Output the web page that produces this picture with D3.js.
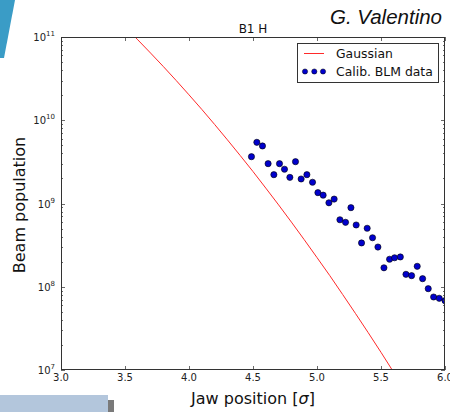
<!DOCTYPE html>
<html>
<head>
<meta charset="utf-8">
<script src="https://cdn.jsdelivr.net/npm/d3@7"></script>
<style>
  html, body { margin: 0; padding: 0; background: #fff; }
  svg { display: block; font-family: "DejaVu Sans", sans-serif; }
</style>
</head>
<body>
<svg id="chart" width="450" height="412"></svg>
<script>
// Calibrated BLM measurements: jaw position (sigma) and beam population
const blmJaw = [4.488, 4.530, 4.574, 4.618, 4.663, 4.707, 4.746, 4.788, 4.832, 4.876,
                4.921, 4.965, 5.007, 5.048, 5.093, 5.134, 5.179, 5.223, 5.265, 5.306,
                5.348, 5.392, 5.434, 5.476, 5.523, 5.567, 5.606, 5.651, 5.695, 5.739,
                5.783, 5.825, 5.869, 5.911, 5.955, 6.000];
const blmPop = [3.65e9, 5.43e9, 4.91e9, 3.01e9, 2.22e9, 3.01e9, 2.58e9, 2.06e9, 3.18e9, 1.97e9,
                2.22e9, 1.80e9, 1.35e9, 1.26e9, 1.02e9, 1.13e9, 6.38e8, 5.94e8, 8.91e8, 5.52e8,
                3.36e8, 5.04e8, 3.88e8, 3.00e8, 1.69e8, 2.14e8, 2.23e8, 2.28e8, 1.41e8, 1.36e8,
                1.76e8, 1.25e8, 9.48e7, 7.53e7, 7.27e7, 6.80e7];

// Gaussian tail reference curve
const gaussJaw = [3.5, 3.6, 3.7, 3.8, 3.9, 4.0, 4.1, 4.2, 4.3, 4.4, 4.5, 4.6,
                  4.7, 4.8, 4.9, 5.0, 5.1, 5.2, 5.3, 5.4, 5.5, 5.6, 5.7];
const gaussPop = [1.32e11, 9.25e10, 6.41e10, 4.41e10, 3.00e10, 2.02e10, 1.35e10, 8.91e9,
                  5.82e9, 3.77e9, 2.42e9, 1.53e9, 9.62e8, 5.98e8, 3.68e8, 2.24e8, 1.36e8,
                  8.09e7, 4.79e7, 2.81e7, 1.63e7, 9.33e6, 5.31e6];

const xTicks = [3.0, 3.5, 4.0, 4.5, 5.0, 5.5, 6.0];
const yDecades = [7, 8, 9, 10, 11];

const svg = d3.select("#chart");
const M = { left: 61, right: 445, top: 37, bottom: 370 };

const x = d3.scaleLinear().domain([3, 6]).range([M.left, M.right]);
const y = d3.scaleLog().domain([1e7, 1e11]).range([M.bottom, M.top]);

// Decorative slide elements
svg.append("polygon")
  .attr("points", "0,0 15,0 4,58 0,58")
  .attr("fill", "#3a9cc6");
svg.append("rect").attr("x", 0).attr("y", 395).attr("width", 108).attr("height", 17)
  .attr("fill", "#b3c6dc");
svg.append("rect").attr("x", 108).attr("y", 400).attr("width", 6).attr("height", 12)
  .attr("fill", "#7a7a7a");

// Author
svg.append("text")
  .attr("x", 442).attr("y", 24)
  .attr("text-anchor", "end")
  .attr("font-family", "'Liberation Sans', Arial, sans-serif")
  .attr("font-style", "italic")
  .attr("font-size", 20.5)
  .attr("fill", "#111")
  .text("G. Valentino");

// Title
svg.append("text")
  .attr("x", (M.left + M.right) / 2).attr("y", 33)
  .attr("text-anchor", "middle")
  .attr("font-size", 12)
  .attr("fill", "#111")
  .text("B1 H");

// Clip region for plotted marks
svg.append("clipPath").attr("id", "plotClip")
  .append("rect")
  .attr("x", M.left).attr("y", M.top)
  .attr("width", M.right - M.left).attr("height", M.bottom - M.top);

const plot = svg.append("g").attr("clip-path", "url(#plotClip)");

// Gaussian curve
const gaussData = gaussJaw.map((j, i) => [j, gaussPop[i]]);
plot.append("path")
  .datum(gaussData)
  .attr("fill", "none")
  .attr("stroke", "#ff2a2a")
  .attr("stroke-width", 1)
  .attr("d", d3.line().x(d => x(d[0])).y(d => y(d[1])).curve(d3.curveMonotoneX));

// BLM data points
plot.selectAll("circle.blm")
  .data(blmJaw.map((j, i) => [j, blmPop[i]]))
  .join("circle")
  .attr("class", "blm")
  .attr("cx", d => x(d[0]))
  .attr("cy", d => y(d[1]))
  .attr("r", 3.1)
  .attr("fill", "#0000cc")
  .attr("stroke", "#000")
  .attr("stroke-width", 0.6);

// Ticks on all four sides, pointing inward
const tickColor = "#444";
const ticks = svg.append("g").attr("stroke", tickColor).attr("stroke-width", 0.8);
xTicks.forEach(t => {
  const px = Math.round(x(t)) + 0.5;
  ticks.append("line").attr("x1", px).attr("x2", px).attr("y1", M.bottom).attr("y2", M.bottom - 4);
  ticks.append("line").attr("x1", px).attr("x2", px).attr("y1", M.top).attr("y2", M.top + 4);
});
const yMinor = [];
for (let e = 7; e < 11; e++) for (let m = 2; m <= 9; m++) yMinor.push(m * Math.pow(10, e));
yDecades.forEach(e => {
  const py = Math.round(y(Math.pow(10, e))) + 0.5;
  ticks.append("line").attr("x1", M.left).attr("x2", M.left + 4).attr("y1", py).attr("y2", py);
  ticks.append("line").attr("x1", M.right).attr("x2", M.right - 4).attr("y1", py).attr("y2", py);
});
yMinor.forEach(v => {
  const py = Math.round(y(v)) + 0.5;
  ticks.append("line").attr("x1", M.left).attr("x2", M.left + 2).attr("y1", py).attr("y2", py);
  ticks.append("line").attr("x1", M.right).attr("x2", M.right - 2).attr("y1", py).attr("y2", py);
});

// Frame
svg.append("rect")
  .attr("x", M.left + 0.5).attr("y", M.top + 0.5)
  .attr("width", M.right - M.left - 1).attr("height", M.bottom - M.top - 1)
  .attr("fill", "none").attr("stroke", "#333").attr("stroke-width", 1);

// X tick labels
svg.append("g").selectAll("text")
  .data(xTicks)
  .join("text")
  .attr("x", d => x(d)).attr("y", 381)
  .attr("text-anchor", "middle")
  .attr("font-size", 10)
  .attr("fill", "#222")
  .text(d => d.toFixed(1));

// Y tick labels as powers of ten
const yl = svg.append("g").selectAll("text")
  .data(yDecades)
  .join("text")
  .attr("x", 55).attr("y", d => y(Math.pow(10, d)) + 4)
  .attr("text-anchor", "end")
  .attr("font-size", 10)
  .attr("fill", "#222");
yl.append("tspan").text("10");
yl.append("tspan").attr("dy", -5).attr("font-size", 7).text(d => d);

// Axis labels
svg.append("text")
  .attr("transform", "translate(25,205) rotate(-90)")
  .attr("text-anchor", "middle")
  .attr("font-size", 16)
  .attr("fill", "#111")
  .text("Beam population");

const xl = svg.append("text")
  .attr("x", (M.left + M.right) / 2).attr("y", 404)
  .attr("text-anchor", "middle")
  .attr("font-size", 16)
  .attr("fill", "#111");
xl.append("tspan").text("Jaw position [");
xl.append("tspan").attr("font-style", "italic").text("σ");
xl.append("tspan").text("]");

// Legend
const lg = svg.append("g");
lg.append("rect")
  .attr("x", 297.5).attr("y", 43.5).attr("width", 141).attr("height", 39)
  .attr("fill", "#fff").attr("stroke", "#333").attr("stroke-width", 1);
lg.append("line")
  .attr("x1", 304).attr("x2", 324).attr("y1", 53.5).attr("y2", 53.5)
  .attr("stroke", "#ff2a2a").attr("stroke-width", 1);
lg.append("text").attr("x", 336).attr("y", 57.5)
  .attr("font-size", 12.4).attr("fill", "#111").text("Gaussian");
lg.selectAll("circle")
  .data([305, 314.3, 323])
  .join("circle")
  .attr("cx", d => d).attr("cy", 71.5).attr("r", 2.6)
  .attr("fill", "#0000cc").attr("stroke", "#000").attr("stroke-width", 0.5);
lg.append("text").attr("x", 336).attr("y", 76)
  .attr("font-size", 12.4).attr("fill", "#111").text("Calib. BLM data");
</script>
</body>
</html>
